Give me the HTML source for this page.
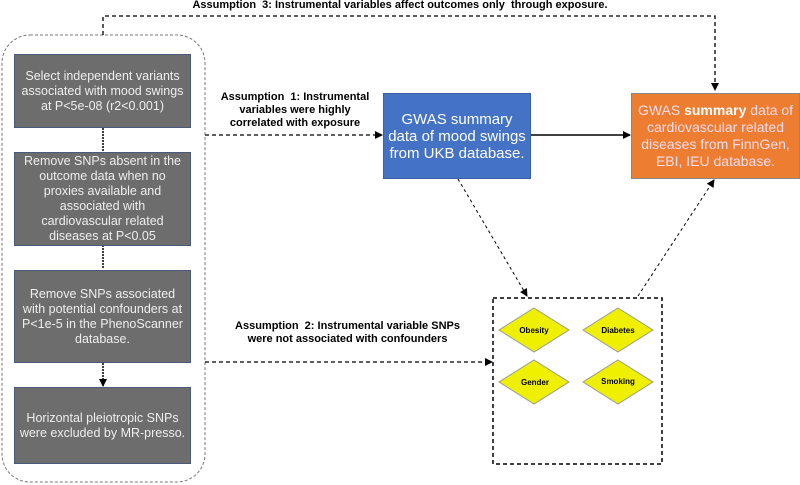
<!DOCTYPE html>
<html><head><meta charset="utf-8"><style>
body{margin:0;width:800px;height:485px;background:#fff;position:relative;overflow:hidden;font-family:"Liberation Sans",sans-serif}
.g{position:absolute;left:14px;width:177px;background:#6d6d6d;border:1px solid #4a5a7a;color:#eee;font-size:12.5px;line-height:15px;text-align:center;display:flex;align-items:center;justify-content:center;box-sizing:border-box;padding:0 1px}
.g div,.box div{width:100%}
.lbl{position:absolute;font-size:11px;font-weight:bold;text-align:center;line-height:13px;color:#000}
.box{position:absolute;color:#fff;text-align:center;display:flex;align-items:center;justify-content:center;box-sizing:border-box;font-size:15px;line-height:17px}
</style></head><body>
<svg width="800" height="485" style="position:absolute;left:0;top:0">
<defs><marker id="a" markerWidth="8" markerHeight="8" refX="7" refY="4" orient="auto" markerUnits="userSpaceOnUse"><path d="M0,0L8,4L0,8z" fill="#000"/></marker></defs>
<rect x="2" y="35" width="203" height="447" rx="28" fill="none" stroke="#777" stroke-dasharray="3,2"/>
<path d="M103,35V16H715V90" fill="none" stroke="#000" stroke-width="1.3" stroke-dasharray="4,3" marker-end="url(#a)"/>
<path d="M205,135H382" stroke="#000" stroke-width="1.3" stroke-dasharray="4,3" marker-end="url(#a)"/>
<path d="M531,135H630" stroke="#000" stroke-width="1.5" marker-end="url(#a)"/>
<path d="M205,362H492" stroke="#000" stroke-width="1.3" stroke-dasharray="4,3" marker-end="url(#a)"/>
<path d="M458,179L527,296" stroke="#000" stroke-dasharray="3,3" marker-end="url(#a)"/>
<path d="M638,296L714,180" stroke="#000" stroke-dasharray="3,3" marker-end="url(#a)"/>
<path d="M103,128V151M103,245V269M103,363V386" stroke="#000" stroke-width="1.5" stroke-dasharray="2,1" marker-end="url(#a)"/>
<rect x="493" y="298" width="169" height="166" fill="none" stroke="#000" stroke-width="1.5" stroke-dasharray="4,3"/>
<g fill="#eef000" stroke="#999">
<path d="M534,308L569,330L534,352L499,330z"/><path d="M618,308L653,330L618,352L583,330z"/>
<path d="M534,360L569,382L534,404L499,382z"/><path d="M618,360L653,382L618,404L583,382z"/>
</g>
<g font-size="8" font-weight="bold" text-anchor="middle" font-family="Liberation Sans,sans-serif">
<text x="534" y="333">Obesity</text><text x="618" y="333">Diabetes</text>
<text x="535" y="385">Gender</text><text x="618" y="384">Smoking</text></g>
</svg>
<div class="lbl" style="left:150px;top:-1px;width:500px;white-space:nowrap">Assumption &nbsp;3: Instrumental variables affect outcomes only &nbsp;through exposure.</div>
<div class="lbl" style="left:210px;top:91px;width:170px">Assumption &nbsp;1: Instrumental<br>variables were highly<br>correlated with exposure</div>
<div class="lbl" style="left:205px;top:320px;width:285px">Assumption &nbsp;2: Instrumental variable SNPs<br>were not associated with confounders</div>
<div class="g" style="top:54px;height:74px"><div>Select independent variants<br>associated with mood swings<br>at P&lt;5e-08 (r2&lt;0.001)</div></div>
<div class="g" style="top:152px;height:94px"><div>Remove SNPs absent in the<br>outcome data when no<br>proxies available and<br>associated with<br>cardiovascular related<br>diseases at P&lt;0.05</div></div>
<div class="g" style="top:270px;height:93px"><div>Remove SNPs associated<br>with potential confounders at<br>P&lt;1e-5 in the PhenoScanner<br>database.</div></div>
<div class="g" style="top:387px;height:77px"><div>Horizontal pleiotropic SNPs<br>were excluded by MR-presso.</div></div>
<div class="box" style="left:383px;top:93px;width:148px;height:86px;background:#4472c4;border:1px solid #3a60a8"><div>GWAS summary<br>data of mood swings<br>from UKB database.</div></div>
<div class="box" style="left:631px;top:93px;width:169px;height:86px;background:#ed7d31;border:1px solid #888;color:#fde;font-size:14px"><div>GWAS <b style="color:#fff">summary</b> data of<br>cardiovascular related<br>diseases from FinnGen,<br>EBI, IEU database.</div></div>
</body></html>
